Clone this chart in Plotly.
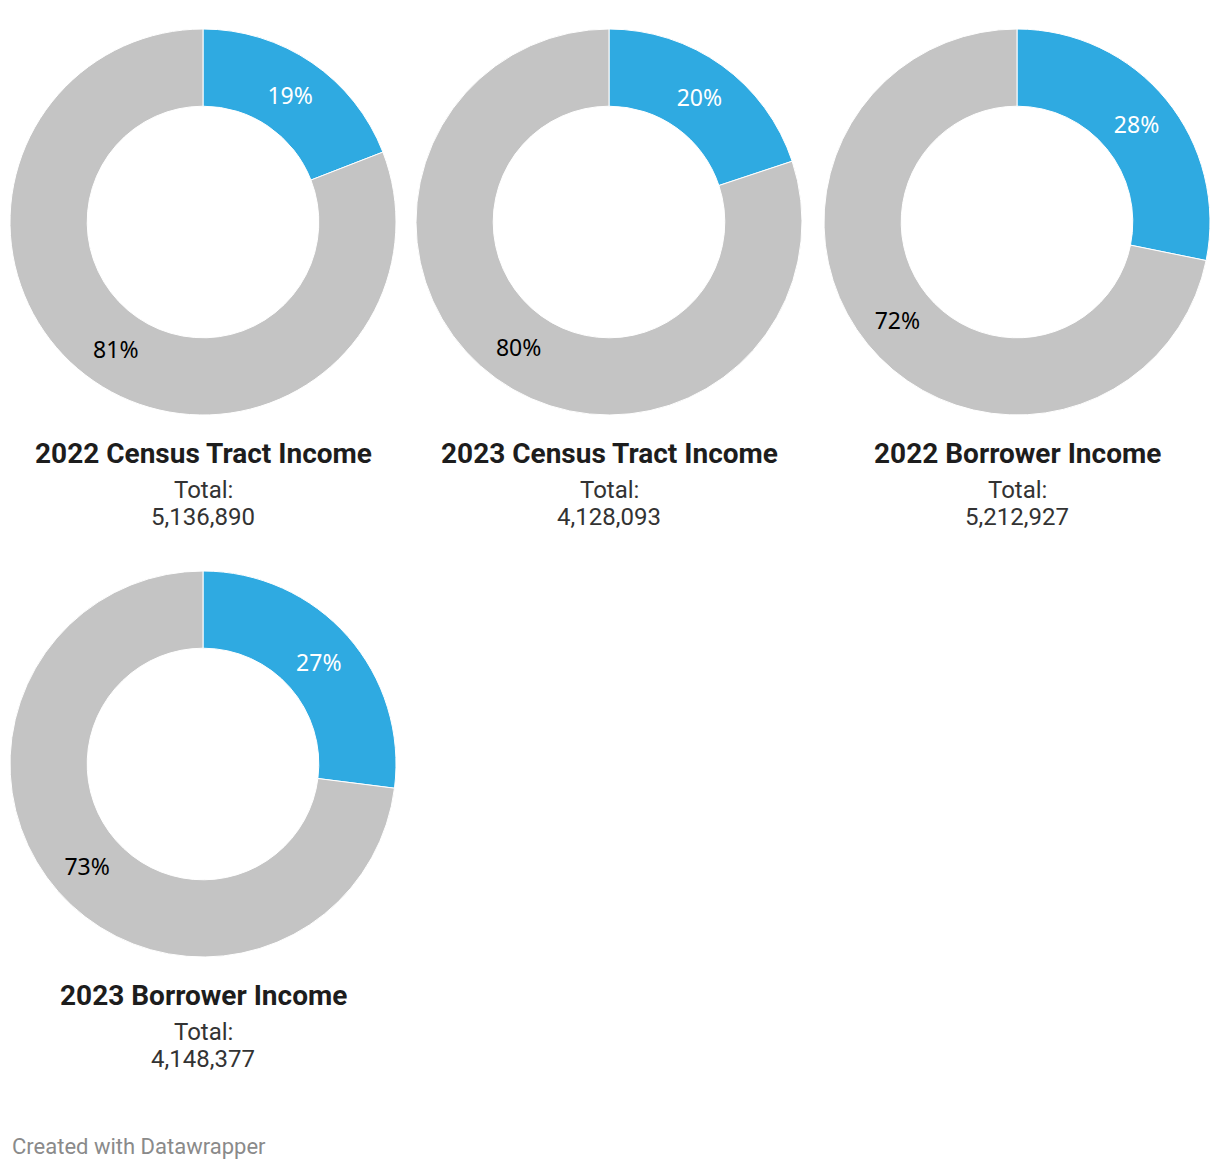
import plotly.graph_objs as go

# Share of loans (percent) in the blue segment vs. the rest
titles = ['2022 Census Tract Income', '2023 Census Tract Income',
          '2022 Borrower Income', '2023 Borrower Income']
totals = ['5,136,890', '4,128,093', '5,212,927', '4,148,377']
blue_share = [19.1, 19.9, 28.2, 27.0]
gray_share = [80.9, 80.1, 71.8, 73.0]
segment_names = ['Low/moderate income', 'Other']

BLUE = '#2faae1'
GRAY = '#c4c4c4'
OFF = 8  # page body margin
W, H = 1220 - 2 * OFF, 1170 - OFF

# donut centres in page pixels (x, y from top) and radius
centers = [(203, 222), (609, 222), (1017, 222), (203, 764)]
R = 193


def px(x):
    return (x - OFF) / W


def py(y):
    return 1 - (y - OFF) / H


fig = go.Figure()
annotations = []

for i, (cx, cy) in enumerate(centers):
    fig.add_trace(go.Pie(
        labels=segment_names,
        values=[blue_share[i], gray_share[i]],
        hole=0.6,
        sort=False,
        direction='clockwise',
        rotation=0,
        marker=dict(colors=[BLUE, GRAY], line=dict(color='white', width=1)),
        texttemplate='%{percent:.0%}',
        textposition='inside',
        insidetextorientation='horizontal',
        insidetextfont=dict(family='Noto Sans', size=23, color=['white', 'black']),
        hoverinfo='label+percent',
        showlegend=False,
        domain=dict(x=[px(cx - R), px(cx + R)],
                    y=[py(cy + R), py(cy - R)]),
    ))
    # chart title and total below each donut
    annotations.append(dict(
        x=px(cx), y=py(cy + 231), xref='paper', yref='paper',
        text='<b>' + titles[i] + '</b>', showarrow=False,
        font=dict(family='Roboto', size=28, color='#1d1d1d'),
        xanchor='center', yanchor='middle'))
    annotations.append(dict(
        x=px(cx), y=py(cy + 268), xref='paper', yref='paper',
        text='Total:', showarrow=False,
        font=dict(family='Roboto', size=24, color='#333333'),
        xanchor='center', yanchor='middle'))
    annotations.append(dict(
        x=px(cx), y=py(cy + 295), xref='paper', yref='paper',
        text=totals[i], showarrow=False,
        font=dict(family='Roboto', size=24, color='#333333'),
        xanchor='center', yanchor='middle'))

annotations.append(dict(
    x=px(10), y=py(1146), xref='paper', yref='paper',
    text='Created with Datawrapper', showarrow=False,
    font=dict(family='Roboto', size=22, color='#8a8a8a'),
    xanchor='left', yanchor='middle'))

fig.update_layout(
    width=W, height=H,
    margin=dict(l=0, r=0, t=0, b=0),
    paper_bgcolor='white',
    plot_bgcolor='white',
    annotations=annotations,
)

fig.write_html('out.html')
